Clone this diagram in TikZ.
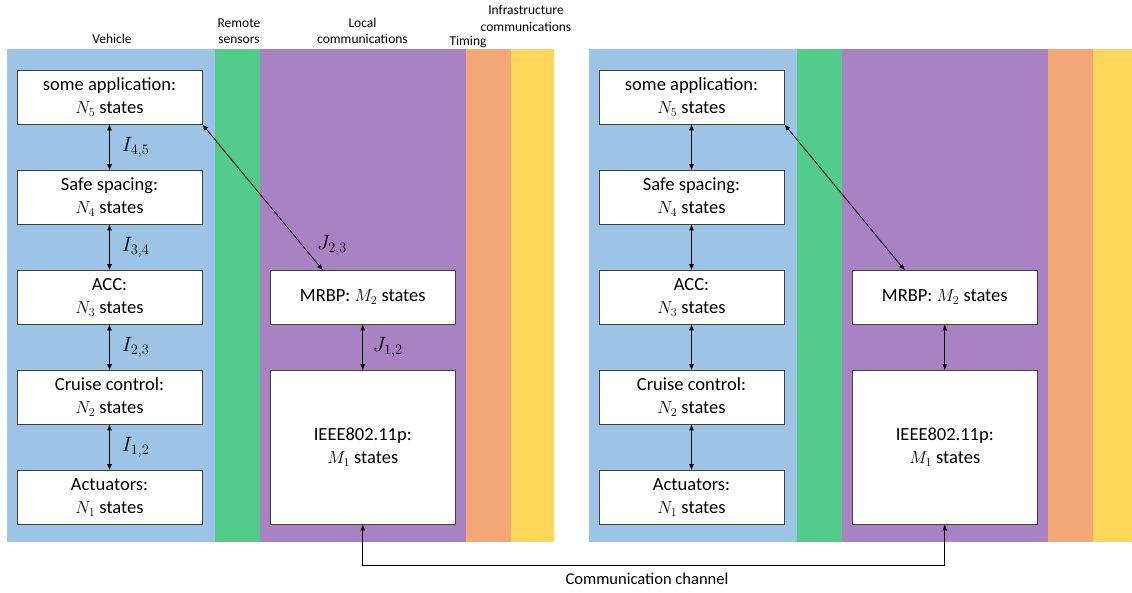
\documentclass[tikz,border=0pt]{standalone}
\usepackage{fontspec}
\setmainfont{Carlito}
\usetikzlibrary{arrows.meta}
\definecolor{cblue}{HTML}{9DC3E6}
\definecolor{cgreen}{HTML}{53CB8B}
\definecolor{cpurple}{HTML}{A982C4}
\definecolor{corange}{HTML}{F4A877}
\definecolor{cyellow}{HTML}{FFD75A}
\tikzset{
  layerbox/.style={draw=black!75, fill=white, line width=0.9pt, align=center,
    minimum width=185pt, inner sep=2pt, font=\fontsize{18.5}{23}\selectfont},
  small/.style={minimum height=53.3pt},
  tall/.style={minimum height=153.3pt},
  hdr/.style={font=\fontsize{13.5}{16.4}\selectfont, align=center, inner sep=0pt},
  lbl/.style={font=\fontsize{17.28}{21}\selectfont, scale=1.2, inner sep=0pt},
  biarr/.style={{Latex[length=6pt,width=5pt]}-{Latex[length=6pt,width=5pt]}, line width=0.8pt, black}
}
\begin{document}
\begin{tikzpicture}[x=1pt,y=-1pt]
\useasboundingbox (0,0) rectangle (1132,592);
% bands
\foreach \o in {0,582}{
  \fill[cblue] (7+\o,49) rectangle (215+\o,542);
  \fill[cgreen] (215+\o,49) rectangle (260+\o,542);
  \fill[cpurple] (260+\o,49) rectangle (466+\o,542);
  \fill[corange] (466+\o,49) rectangle (511+\o,542);
}
\fill[cyellow] (511,49) rectangle (554,542);
\fill[cyellow] (1093,49) rectangle (1132,542);
% headers
\node[hdr, anchor=base] (hveh) at (112,43.7) {Vehicle};
\node[hdr, anchor=base] (hrem) at (239,43.7) {Remote\\sensors};
\node[hdr, anchor=base] (hloc) at (362.5,43.7) {Local\\communications};
\node[hdr, anchor=base] (htim) at (468,45.7) {Timing};
\node[hdr, anchor=base] (hinf) at (526,31) {Infrastructure\\communications};
% boxes
\foreach \o/\s in {0/L,582/R}{
  \node[layerbox, small] (app\s) at (109.5+\o,97.3) {some application:\\$N_5$ states};
  \node[layerbox, small] (safe\s) at (109.5+\o,197.3) {Safe spacing:\\$N_4$ states};
  \node[layerbox, small] (acc\s) at (109.5+\o,297.3) {ACC:\\$N_3$ states};
  \node[layerbox, small] (cru\s) at (109.5+\o,397.3) {Cruise control:\\$N_2$ states};
  \node[layerbox, small] (act\s) at (109.5+\o,497.3) {Actuators:\\$N_1$ states};
  \node[layerbox, small] (mrbp\s) at (362.8+\o,297.3) {MRBP: $M_2$ states};
  \node[layerbox, tall] (ieee\s) at (362.8+\o,447.3) {IEEE802.11p:\\$M_1$ states};
}
% left connectors with labels
\draw[biarr] (appL) -- (safeL) node[midway, lbl, anchor=west, xshift=10pt] (i45) {$I_{4,5}$};
\draw[biarr] (safeL) -- (accL) node[midway, lbl, anchor=west, xshift=10pt] (i34) {$I_{3,4}$};
\draw[biarr] (accL) -- (cruL) node[midway, lbl, anchor=west, xshift=10pt] (i23) {$I_{2,3}$};
\draw[biarr] (cruL) -- (actL) node[midway, lbl, anchor=west, xshift=10pt] (i12) {$I_{1,2}$};
\draw[biarr] (mrbpL) -- (ieeeL) node[midway, lbl, anchor=west, xshift=8pt] (j12) {$J_{1,2}$};
\draw[biarr] (appL.south east) -- ([xshift=-40pt]mrbpL.north) node[pos=0.83, lbl, anchor=west, xshift=12pt] (j23) {$J_{2,3}$};
% right connectors
\draw[biarr] (appR) -- (safeR);
\draw[biarr] (safeR) -- (accR);
\draw[biarr] (accR) -- (cruR);
\draw[biarr] (cruR) -- (actR);
\draw[biarr] (mrbpR) -- (ieeeR);
\draw[biarr] (appR.south east) -- ([xshift=-40pt]mrbpR.north);
% channel
\draw[biarr] (ieeeL.south) -- ++(0,41) -| (ieeeR.south);
\node[font=\fontsize{16.5}{19}\selectfont, inner sep=0pt] (chan) at (647,579) {Communication channel};
\end{tikzpicture}
\end{document}
